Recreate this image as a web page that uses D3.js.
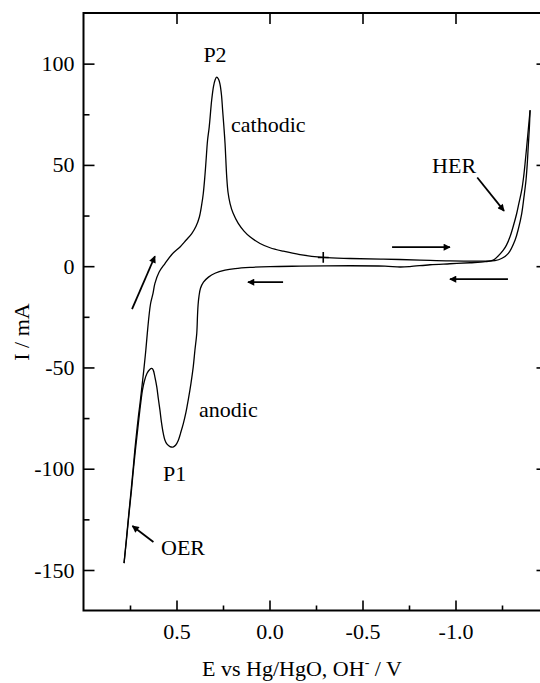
<!DOCTYPE html>
<html>
<head>
<meta charset="utf-8">
<script src="https://cdn.jsdelivr.net/npm/d3@7"></script>
<style>
  html, body { margin: 0; padding: 0; background: #fff; }
  svg { display: block; }
  text { font-family: "Liberation Serif", "Times New Roman", serif; fill: #000; }
</style>
</head>
<body>
<svg id="chart" width="540" height="683"></svg>
<script>
// ---- Data (potential E in V vs Hg/HgO, current I in mA) ----
// Forward sweep: from the positive vertex (OER) up through P2 and on to the HER vertex
const E_forward = [0.782,0.770,0.758,0.744,0.732,0.724,0.715,0.704,0.694,0.682,0.674,0.665,0.657,0.648,0.639,0.626,0.616,0.594,0.562,0.524,0.481,0.449,0.418,0.395,0.377,0.365,0.356,0.347,0.341,0.333,0.324,0.311,0.301,0.293,0.284,0.274,0.266,0.258,0.252,0.245,0.239,0.230,0.223,0.212,0.196,0.168,0.137,0.105,0.051,-0.003,-0.074,-0.164,-0.289,-0.433,-0.612,-0.809,-0.970,-1.149,-1.212,-1.250,-1.284,-1.320,-1.339,-1.356,-1.368,-1.379,-1.386,-1.391,-1.397,-1.401];
const I_forward = [-146.6,-135.2,-123.7,-110.6,-99.1,-90.8,-82.6,-73.5,-66.1,-56.3,-49.7,-41.5,-33.2,-24.7,-18.3,-13.3,-8.5,-3.0,1.3,5.9,9.5,12.8,16.1,19.7,24.3,30.1,35.9,44.9,52.3,62.2,68.8,81.9,88.8,91.8,93.3,92.3,89.8,84.4,77.0,68.6,60.6,44.1,36.5,30.9,26.2,21.1,17.3,14.5,11.2,9.1,7.4,5.7,4.3,3.8,3.5,3.0,2.6,2.5,2.7,3.9,6.3,12.8,18.8,26.0,34.1,42.4,50.8,58.9,68.1,77.0];
// Reverse sweep: from the HER vertex back through P1 to the OER vertex
const E_reverse = [-1.401,-1.391,-1.382,-1.374,-1.366,-1.356,-1.341,-1.329,-1.312,-1.293,-1.274,-1.257,-1.228,-1.203,-1.159,-1.078,-0.970,-0.863,-0.755,-0.702,-0.621,-0.433,-0.164,-0.003,0.105,0.185,0.239,0.293,0.328,0.355,0.371,0.379,0.384,0.387,0.391,0.401,0.410,0.422,0.437,0.449,0.463,0.478,0.490,0.505,0.519,0.535,0.551,0.562,0.571,0.581,0.589,0.598,0.606,0.616,0.625,0.633,0.645,0.659,0.673,0.683,0.697,0.711,0.721,0.732,0.742,0.756,0.769,0.782];
const I_reverse = [77.0,67.1,58.2,50.7,43.9,37.5,31.1,26.0,20.2,14.5,10.4,7.9,4.9,3.0,2.2,1.7,1.2,0.7,-0.2,-0.4,0.0,0.2,0.0,-0.2,-0.6,-1.2,-2.0,-3.5,-5.4,-7.9,-10.9,-14.8,-19.2,-24.2,-33.1,-41.5,-49.7,-57.7,-66.1,-72.1,-77.6,-82.4,-85.9,-88.4,-89.3,-89.1,-87.9,-85.9,-82.6,-77.0,-71.1,-65.2,-59.6,-54.8,-51.3,-50.5,-51.1,-53.0,-56.8,-61.2,-71.1,-82.6,-90.8,-100.7,-110.6,-122.9,-135.2,-146.6];
// Start marker of the scan
const startPoint = [-0.289, 4.3];

// Ticks
const xMajorTicks = [0.5, 0.0, -0.5, -1.0];
const xTickLabels = ["0.5", "0.0", "-0.5", "-1.0"];
const xMinorTicks = [0.75, 0.25, -0.25, -0.75, -1.25];
const yMajorTicks = [100, 50, 0, -50, -100, -150];
const yTickLabels = ["100", "50", "0", "-50", "-100", "-150"];
const yMinorTicks = [75, 25, -25, -75, -125];

// Annotations (in data units)
const labelText = ["P2", "cathodic", "anodic", "P1", "OER", "HER"];
const labelE    = [0.293, 0.207, 0.379, 0.573, 0.583, -0.874];
const labelI    = [100.7, 66.1, -74.5, -106.1, -142.6, 45.9];
const labelAnchor = ["middle", "start", "start", "start", "start", "start"];

// Arrows: from (E1,I1) to (E2,I2) with head at the second point
const arrowE1 = [0.624, -1.117, 0.739, -0.659, -1.282, -0.073];
const arrowI1 = [-136.2, 43.8, -21.2, 9.4, -6.4, -7.9];
const arrowE2 = [0.737, -1.261, 0.616, -0.970, -0.970, 0.116];
const arrowI2 = [-128.3, 27.3, 4.9, 9.4, -6.4, -7.9];

// ---- Drawing ----
const svg = d3.select("#chart");
const xScale = d3.scaleLinear().domain([1.0, -1.5]).range([83.5, 548.5]);
const yScale = d3.scaleLinear().domain([-170, 125]).range([610.5, 13]);
const FS = 22;

svg.append("defs").append("marker")
  .attr("id", "head").attr("viewBox", "0 0 10 10")
  .attr("refX", 9).attr("refY", 5)
  .attr("markerWidth", 11).attr("markerHeight", 7)
  .attr("markerUnits", "userSpaceOnUse")
  .attr("orient", "auto")
  .append("path").attr("d", "M0,0 L10,5 L0,10 Z").attr("fill", "#000");

// Frame
svg.append("rect")
  .attr("x", xScale(1.0)).attr("y", yScale(125))
  .attr("width", xScale(-1.5) - xScale(1.0)).attr("height", yScale(-170) - yScale(125))
  .attr("fill", "none").attr("stroke", "#000").attr("stroke-width", 2);

// Axes
function styleAxis(g) {
  g.select(".domain").remove();
  g.selectAll("line").attr("stroke", "#000").attr("stroke-width", 1.6);
  g.selectAll("text").attr("font-size", FS).attr("font-family", '"Liberation Serif", "Times New Roman", serif');
}
const gBottom = svg.append("g").attr("transform", `translate(0,${yScale(-170)})`)
  .call(d3.axisBottom(xScale).tickValues(xMajorTicks).tickSize(-10).tickPadding(13)
    .tickFormat((d, i) => xTickLabels[i]));
styleAxis(gBottom);
const gBottomMinor = svg.append("g").attr("transform", `translate(0,${yScale(-170)})`)
  .call(d3.axisBottom(xScale).tickValues(xMinorTicks).tickSize(-5).tickFormat(""));
styleAxis(gBottomMinor);
const gTop = svg.append("g").attr("transform", `translate(0,${yScale(125)})`)
  .call(d3.axisTop(xScale).tickValues(xMajorTicks).tickSize(-11).tickFormat(""));
styleAxis(gTop);
const gLeft = svg.append("g").attr("transform", `translate(${xScale(1.0)},0)`)
  .call(d3.axisLeft(yScale).tickValues(yMajorTicks).tickSize(-11).tickPadding(9)
    .tickFormat((d, i) => yTickLabels[i]));
styleAxis(gLeft);
const gLeftMinor = svg.append("g").attr("transform", `translate(${xScale(1.0)},0)`)
  .call(d3.axisLeft(yScale).tickValues(yMinorTicks).tickSize(-6).tickFormat(""));
styleAxis(gLeftMinor);
const gRight = svg.append("g").attr("transform", `translate(${xScale(-1.5)},0)`)
  .call(d3.axisRight(yScale).tickValues(yMajorTicks).tickSize(-12).tickFormat(""));
styleAxis(gRight);

// Curve
const fwd = E_forward.map((e, i) => [e, I_forward[i]]);
const rev = E_reverse.map((e, i) => [e, I_reverse[i]]);
const line = d3.line().x(d => xScale(d[0])).y(d => yScale(d[1])).curve(d3.curveCatmullRom.alpha(0.5));
svg.append("path").datum(fwd).attr("d", line)
  .attr("fill", "none").attr("stroke", "#000").attr("stroke-width", 1.3);
svg.append("path").datum(rev).attr("d", line)
  .attr("fill", "none").attr("stroke", "#000").attr("stroke-width", 1.3);

// Start marker
svg.append("path")
  .attr("d", d3.symbol(d3.symbolPlus, 40)())
  .attr("transform", `translate(${xScale(startPoint[0])},${yScale(startPoint[1])})`)
  .attr("fill", "none").attr("stroke", "#000").attr("stroke-width", 1.6);

// Arrows
arrowE1.forEach((e, i) => {
  svg.append("line")
    .attr("x1", xScale(e)).attr("y1", yScale(arrowI1[i]))
    .attr("x2", xScale(arrowE2[i])).attr("y2", yScale(arrowI2[i]))
    .attr("stroke", "#000").attr("stroke-width", 1.8)
    .attr("marker-end", "url(#head)");
});

// Annotation labels
labelText.forEach((t, i) => {
  svg.append("text")
    .attr("x", xScale(labelE[i])).attr("y", yScale(labelI[i]))
    .attr("text-anchor", labelAnchor[i])
    .attr("font-size", FS)
    .text(t);
});

// Axis titles
const xt = svg.append("text")
  .attr("x", 302).attr("y", 676)
  .attr("text-anchor", "middle").attr("font-size", FS);
xt.append("tspan").text("E vs Hg/HgO, OH");
xt.append("tspan").attr("dy", -9).attr("font-size", 14).text("-");
xt.append("tspan").attr("dy", 9).text(" / V");

svg.append("text")
  .attr("transform", "translate(29,332) rotate(-90)")
  .attr("text-anchor", "middle").attr("font-size", FS)
  .text("I / mA");
</script>
</body>
</html>
